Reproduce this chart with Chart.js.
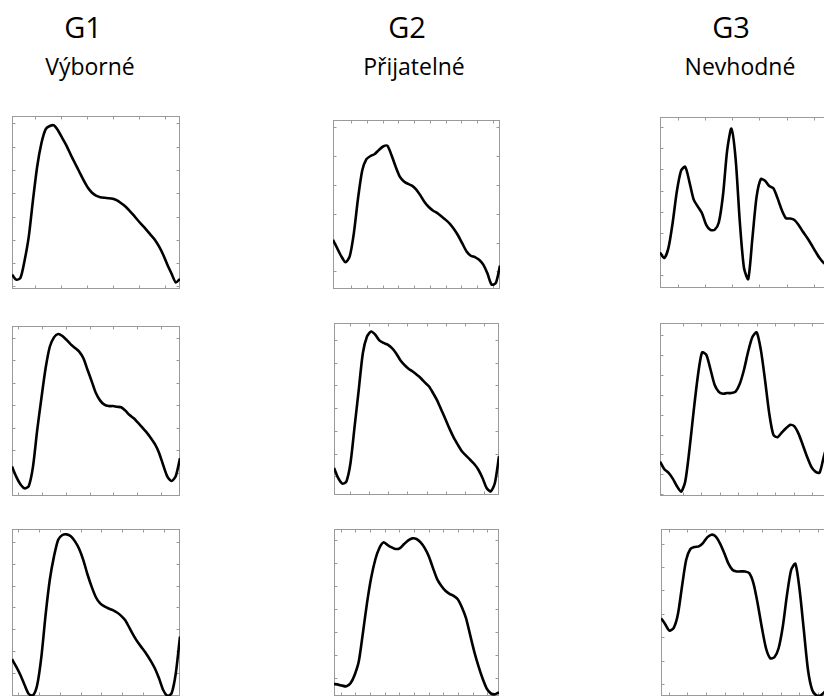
<!DOCTYPE html>
<html>
<head>
<meta charset="utf-8">
<script src="https://cdn.jsdelivr.net/npm/chart.js@4.4.0/dist/chart.umd.min.js"></script>
<style>
  html, body { margin: 0; padding: 0; background: #fff; overflow: hidden; }
  body { width: 824px; height: 697px; position: relative; font-family: 'Open Sans', sans-serif; color: #000; }
  .group { position: absolute; font-size: 29px; line-height: 29px; transform: translateX(-50%); white-space: nowrap; }
  .rating { position: absolute; font-size: 23px; line-height: 23px; transform: translateX(-50%); white-space: nowrap; }
  canvas { position: absolute; }
</style>
</head>
<body>
<script>
const groups = ['G1', 'G2', 'G3'];
const ratings = ['Výborné', 'Přijatelné', 'Nevhodné'];

// % of cycle
const cycle = [0, 2.5, 5, 7.5, 10, 12.5, 15, 17.5, 20, 22.5, 25, 27.5, 30, 32.5, 35, 37.5, 40,
  42.5, 45, 47.5, 50, 52.5, 55, 57.5, 60, 62.5, 65, 67.5, 70, 72.5, 75, 77.5, 80, 82.5, 85,
  87.5, 90, 92.5, 95, 97.5, 100];

const g1Row1 = [8.3, 5.4, 6.3, 16.5, 30.4, 51.5, 70.8, 84.2, 92.3, 94.2, 94.6, 91.5, 87.1, 82.7,
  77.5, 72.7, 67.9, 63.1, 58.8, 55.8, 54, 53.1, 52.7, 52.5, 52.1, 51.2, 49.6, 47.7, 45.2, 42.5,
  39.6, 36.9, 34.2, 31.3, 28.5, 24.6, 19.8, 14, 8.8, 3.8, 5.8];
const g1Row2 = [17.3, 11.4, 6.9, 4.5, 5.9, 17.3, 38.8, 57.5, 75.1, 87.8, 93.3, 95.3, 94.1, 91.8,
  89.2, 87.1, 84.9, 81, 74.1, 67.3, 60.4, 56.1, 53.7, 52.9, 52.9, 52.5, 52.2, 50.2, 47.6, 45.7,
  43.1, 40.4, 37.6, 34.3, 30.6, 25.5, 18.2, 11.4, 8.8, 11.8, 22.2];
const g1Row3 = [22, 17.6, 12.6, 6.6, 1.2, 0.4, 6.6, 23.6, 48.6, 69.6, 83.6, 93.6, 96.4, 96.8,
  95.6, 92.6, 88, 81.2, 72.6, 65.2, 59, 55.4, 53.6, 52.4, 51.4, 50, 48, 45.2, 40.6, 36,
  32, 28.6, 25.2, 21.2, 16.6, 10.6, 3.6, 0.2, 1.6, 13.6, 35.6];

const g2Row1 = [29.1, 24.2, 19.3, 15.9, 19.3, 33.1, 53.7, 70.1, 76.8, 78.7, 79.9, 82.3, 84.3, 84.8,
  79.3, 72.4, 66.5, 63.6, 62.2, 61, 58.7, 55.1, 51.2, 48.4, 46.3, 44.9, 42.9, 40.9, 38.6, 35.4,
  31.5, 26.8, 22.2, 19.7, 18.9, 17.3, 14.4, 9.1, 2.6, 3.5, 13.8];
const g2Row2 = [15.7, 9.9, 6.6, 7.9, 18.6, 39.9, 61.2, 82.6, 92.2, 95, 93.2, 89.9, 88.4, 87.4,
  85.5, 82.6, 78.7, 75.8, 73.6, 71.9, 70, 68, 65.5, 63.2, 59.3, 55, 49.6, 44.2, 38.6, 33.5,
  29.3, 25.4, 22.9, 20.5, 18, 14.7, 9.9, 4.1, 2.1, 7, 22.5];
const g2Row3 = [7.2, 6.8, 6.2, 5.8, 7.6, 12.6, 20.6, 37.6, 55.6, 70.6, 81.6, 88.6, 92, 90.4,
  89, 88, 88.6, 91, 93.2, 94.4, 94, 92, 88.6, 83.6, 76.6, 70, 66, 63, 61.2, 60,
  58, 53.2, 46.6, 36.6, 26.6, 18, 10.6, 4.6, 1.6, 1, 2.2];

const g3Row1 = [20.8, 17.5, 23.3, 37.9, 56.3, 68.5, 70.9, 62.1, 51.8, 47.6, 43.7, 36.9, 34, 34,
  38.3, 54.4, 80.6, 93.2, 75.7, 38.8, 11.7, 5.2, 29.1, 53.4, 63.7, 62.7, 59.6, 58.3, 52.4, 45.6,
  40.8, 40.6, 39.8, 36.9, 33, 29.5, 25.6, 21.4, 17.5, 14.6, 13.6];
const g3Row2 = [19.9, 15.6, 13.5, 10.2, 5.8, 2.5, 8.3, 26.6, 48.8, 69.1, 83, 81.7, 73.4, 64.3,
  60.2, 59.1, 59.5, 59.5, 60.4, 64.9, 73, 83.6, 91.9, 94.6, 84.6, 67.2, 47.9, 35.3, 34, 36.7,
  39.2, 41.1, 40.2, 35.9, 29.5, 22.8, 17, 14.1, 13.5, 22.8, 31.5];
const g3Row3 = [46.6, 43, 39.2, 40.6, 48.6, 65.6, 81.6, 88, 89.2, 89.6, 91.6, 95, 96.6, 95.6,
  91.6, 86, 79.6, 75.6, 74.6, 74.6, 74.6, 73.6, 67.6, 55.6, 41.2, 28.6, 22.6, 23.2, 28.6, 41.6,
  60.6, 75.6, 79.2, 63.6, 39.6, 15.6, 3.6, 0.4, 0.4, 2.6, 5.6];

const series = [
  [g1Row1, g2Row1, g3Row1],
  [g1Row2, g2Row2, g3Row2],
  [g1Row3, g2Row3, g3Row3]
];

// layout: plot frames [left, top, width, height]
const boxes = [
  [[12, 116, 168, 173], [333, 120, 167, 169], [660, 117, 168, 171]],
  [[12, 326, 168, 170], [334, 323, 165, 172], [660, 323, 168, 173]],
  [[12, 529, 168, 167], [334, 529, 165, 167], [661, 529, 168, 167]]
];
// tick marks [xStart, xStep, yStart, yStep]
const tickSpecs = [
  [[13.5, 15.5, 1.5, 13.46], [11, 9.4, 10.4, 17.1], [10.9, 16.1, 7.8, 12.3]],
  [[3.6, 14.2, 0.6, 13.2], [9.7, 11.6, 10.9, 13.2], [13.5, 11, 1, 11.5]],
  [[3.6, 12.4, 0.6, 13.1], [4, 8.9, 10.6, 13.8], [4.6, 11.1, 7.2, 14]]
];
const groupX = [83, 407, 731];
const ratingX = [90, 414, 740];

function stepTicks(start, step) {
  const out = [];
  for (let v = start; v <= 100; v += step) {
    out.push(v);
  }
  return out;
}

const framePlugin = {
  id: 'frame',
  beforeDatasetsDraw(chart, args, opts) {
    const ctx = chart.ctx;
    const a = chart.chartArea;
    const xs = chart.scales.x;
    const ys = chart.scales.y;
    const l = Math.round(a.left) + 0.5, r = Math.round(a.right) - 0.5;
    const t = Math.round(a.top) + 0.5, b = Math.round(a.bottom) - 0.5;
    ctx.save();
    ctx.strokeStyle = '#9a9a9a';
    ctx.lineWidth = 1;
    ctx.strokeRect(l, t, r - l, b - t);
    ctx.beginPath();
    opts.xTicks.forEach(v => {
      const px = Math.round(xs.getPixelForValue(v)) + 0.5;
      ctx.moveTo(px, t); ctx.lineTo(px, t + 3);
      ctx.moveTo(px, b); ctx.lineTo(px, b - 3);
    });
    opts.yTicks.forEach(v => {
      const py = Math.round(ys.getPixelForValue(v)) + 0.5;
      ctx.moveTo(l, py); ctx.lineTo(l + 3, py);
      ctx.moveTo(r, py); ctx.lineTo(r - 3, py);
    });
    ctx.stroke();
    ctx.restore();
  }
};

function addText(cls, text, x, top) {
  const el = document.createElement('div');
  el.className = cls;
  el.textContent = text;
  el.style.left = x + 'px';
  el.style.top = top + 'px';
  document.body.appendChild(el);
}

function makePanel(values, box, spec) {
  const pad = 3;
  const canvas = document.createElement('canvas');
  canvas.width = box[2] + 2 * pad;
  canvas.height = box[3] + 2 * pad;
  canvas.style.left = (box[0] - pad) + 'px';
  canvas.style.top = (box[1] - pad) + 'px';
  document.body.appendChild(canvas);

  return new Chart(canvas, {
    type: 'line',
    data: {
      datasets: [{
        data: cycle.map((x, i) => ({ x: x, y: values[i] })),
        borderColor: '#000',
        borderWidth: 2.6,
        pointRadius: 0,
        tension: 0.25,
        fill: false
      }]
    },
    options: {
      responsive: false,
      animation: false,
      events: [],
      layout: { padding: pad },
      plugins: {
        legend: { display: false },
        tooltip: { enabled: false },
        frame: { xTicks: stepTicks(spec[0], spec[1]), yTicks: stepTicks(spec[2], spec[3]) }
      },
      scales: {
        x: { type: 'linear', min: 0, max: 100, display: false },
        y: { type: 'linear', min: 0, max: 100, display: false }
      }
    },
    plugins: [framePlugin]
  });
}

for (let c = 0; c < 3; c++) {
  addText('group', groups[c], groupX[c], 12);
  addText('rating', ratings[c], ratingX[c], 55);
}

for (let r = 0; r < 3; r++) {
  for (let c = 0; c < 3; c++) {
    makePanel(series[r][c], boxes[r][c], tickSpecs[r][c]);
  }
}
</script>
</body>
</html>
